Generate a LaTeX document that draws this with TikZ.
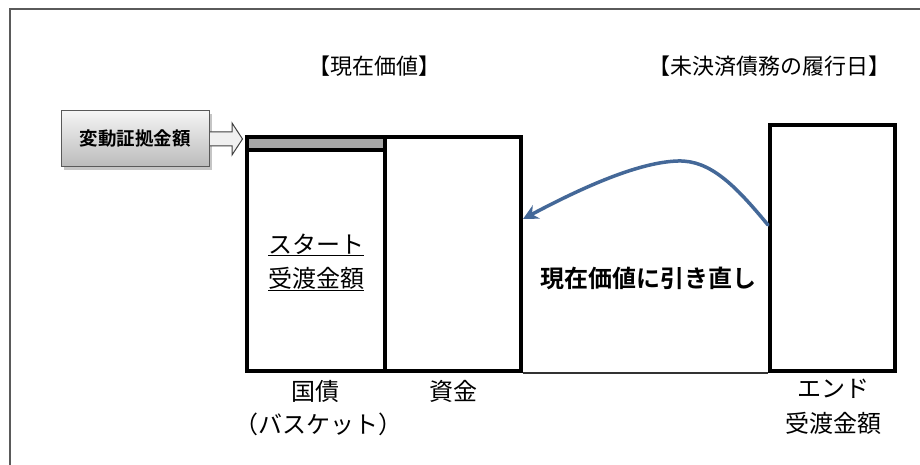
\documentclass[tikz,border=0pt]{standalone}
\usepackage{fontspec}
\newfontfamily\jp{Noto Sans CJK JP}[BoldFont={Noto Sans CJK JP Bold}]
\usetikzlibrary{arrows.meta,shadows,calc}
\definecolor{arrowblue}{RGB}{68,104,152}
\definecolor{barGray}{RGB}{166,166,166}
\definecolor{frameGray}{RGB}{90,90,90}
\begin{document}
\begin{tikzpicture}[x=1pt,y=-1pt,
  txt/.style={font=\jp\fontsize{24}{27}\selectfont, inner sep=0pt},
  ttl/.style={font=\jp\fontsize{22}{25}\selectfont, inner sep=0pt},
  heavybox/.style={draw=black, line width=4pt, inner sep=0pt, fill=white},
  labelbox/.style={draw=black!65, line width=1pt, inner sep=0pt,
    top color=black!4, bottom color=black!27,
    drop shadow={shadow xshift=3pt, shadow yshift=-3pt, opacity=0.45},
    font=\jp\bfseries\fontsize{18.5}{20}\selectfont},
  blockarrow/.style={draw=black!75, line width=1pt, fill=black!6, line join=miter},
  curvearrow/.style={draw=arrowblue, line width=3.5pt, line cap=round,
    -{Stealth[length=15pt,width=15pt]}},
  baseline/.style={draw=black!80, line width=1.3pt},
  frame/.style={draw=frameGray, line width=1.3pt}
]
\useasboundingbox (0,0) rectangle (920,465);
\fill[white] (0,0) rectangle (920,465);
% frame lines
\coordinate (fA) at (10,465);
\coordinate (fB) at (10,9);
\coordinate (fC) at (920,9);
\draw[frame] (fA) -- (fB) -- (fC);

% titles
\node[ttl] (t1) at (374,66) {【現在価値】};
\node[ttl] (t2) at (769,66) {【未決済債務の履行日】};

% boxes
\node[heavybox, fill=barGray, minimum width=138pt, minimum height=13pt] (bar) at (316,143.5) {};
\node[heavybox, minimum width=138pt, minimum height=221pt] (bond) at (316,260.5) {};
\node[heavybox, minimum width=136pt, minimum height=234pt] (fund) at (453,254) {};
\node[heavybox, minimum width=125pt, minimum height=246pt] (endbox) at (832.5,248) {};

\draw[baseline] (fund.south east) -- (endbox.south west);

% label box with block arrow
\node[labelbox, minimum width=148pt, minimum height=56pt] (lbl) at (135,139) {変動証拠金額};
\path[blockarrow]
  ($(lbl.east)+(0.5,-7)$) -- ++(22,0) -- ++(0,-9)
  -- ($(bar.west |- lbl.east)+(-2.5,0)$)
  -- ($(lbl.east)+(22.5,16)$) -- ++(0,-9) -- ($(lbl.east)+(0.5,7)$);

% texts in boxes
\node[txt] (s1) at (316,245) {\underline{スタート}};
\node[txt] (s2) at (316,279) {\underline{受渡金額}};
\node[txt, font=\jp\bfseries\fontsize{24}{27}\selectfont] (pv) at (648,278) {現在価値に引き直し};

% labels below
\node[txt] (b1) at (315,391) {国債};
\node[txt] (b2) at (318,424) {（バスケット）};
\node[txt] (f1) at (453,391) {資金};
\node[txt] (e1) at (833,389) {エンド};
\node[txt] (e2) at (833,423) {受渡金額};

% curved arrow
\coordinate (peak) at (678,161);
\draw[curvearrow] ([yshift=23pt]endbox.west)
  .. controls (735,185) and (710,160) .. (peak)
  .. controls (640,162) and (585,186) .. ([yshift=35pt]fund.east);
\end{tikzpicture}
\end{document}
